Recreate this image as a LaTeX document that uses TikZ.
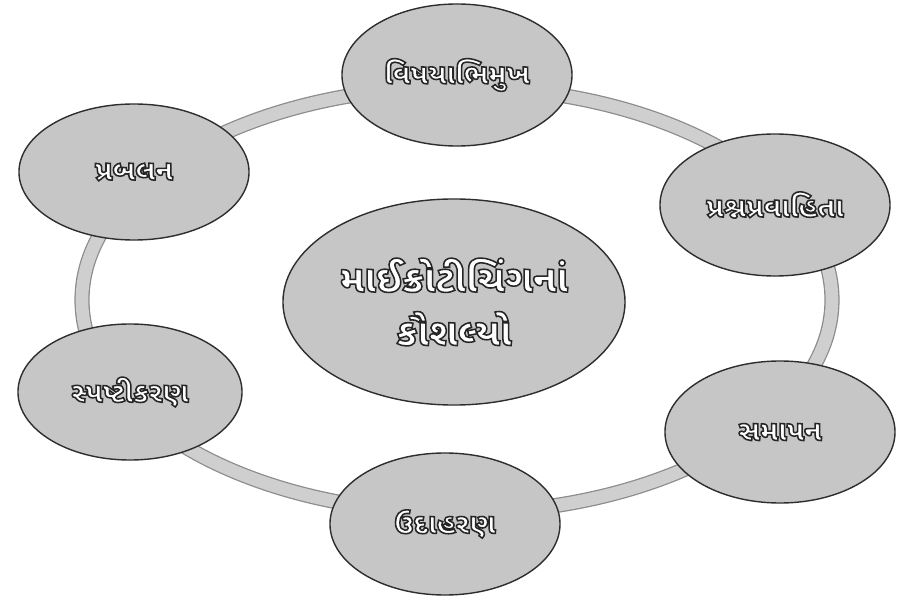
\documentclass[tikz,border=0pt]{standalone}
\usepackage{fontspec}
\usepackage{tikz}
\usetikzlibrary{shapes.geometric}
\newfontfamily\guj[Script=Gujarati]{Noto Sans Gujarati UI}
\definecolor{ring}{HTML}{CFCFCF}
\definecolor{ringrand}{HTML}{8C8C8C}
\definecolor{feld}{HTML}{C6C6C6}
\definecolor{rand}{HTML}{2E2E2E}
\tikzset{
  kreis/.style={draw=ringrand,line width=0.9pt,double=ring,double distance=9pt},
  knoten/.style={ellipse,fill=feld,draw=rand,line width=1pt,inner sep=0pt,
    minimum width=5.75cm,minimum height=3.55cm,text=white,
    font=\guj\bfseries\fontsize{20}{24}\selectfont},
  mitte/.style={knoten,minimum width=8.55cm,minimum height=5.15cm,
    align=center,font=\guj\bfseries\fontsize{27}{38}\selectfont},
}
% weisse Schrift mit dunklem Umriss
\newcommand{\schrift}[1]{\special{pdf:code 0.15 G 1.1 w 2 Tr}#1\special{pdf:code 0 Tr}}

\begin{document}
\begin{tikzpicture}[x=0.025cm,y=-0.025cm]
  \useasboundingbox (0,0) rectangle (910,597);
  \draw[kreis] (457,300) ellipse [x radius=375, y radius=213];
  \node[knoten] (vishay)   at (457,75)  {\schrift{વિષયાભિમુખ}};
  \node[knoten] (prashna)  at (775,205) {\schrift{પ્રશ્નપ્રવાહિતા}};
  \node[knoten] (samapan)  at (780,432) {\schrift{સમાપન}};
  \node[knoten] (udaharan) at (445,524) {\schrift{ઉદાહરણ}};
  \node[knoten,minimum width=5.6cm,minimum height=3.4cm] (spasht) at (130,392) {\schrift{સ્પષ્ટીકરણ}};
  \node[knoten,minimum height=3.4cm] (prabalan) at (134,172) {\schrift{પ્રબલન}};
  \node[mitte] (kendra) at (454,302) {\schrift{માઈક્રોટીચિંગનાં}\\\schrift{કૌશલ્યો}};
\end{tikzpicture}
\end{document}
